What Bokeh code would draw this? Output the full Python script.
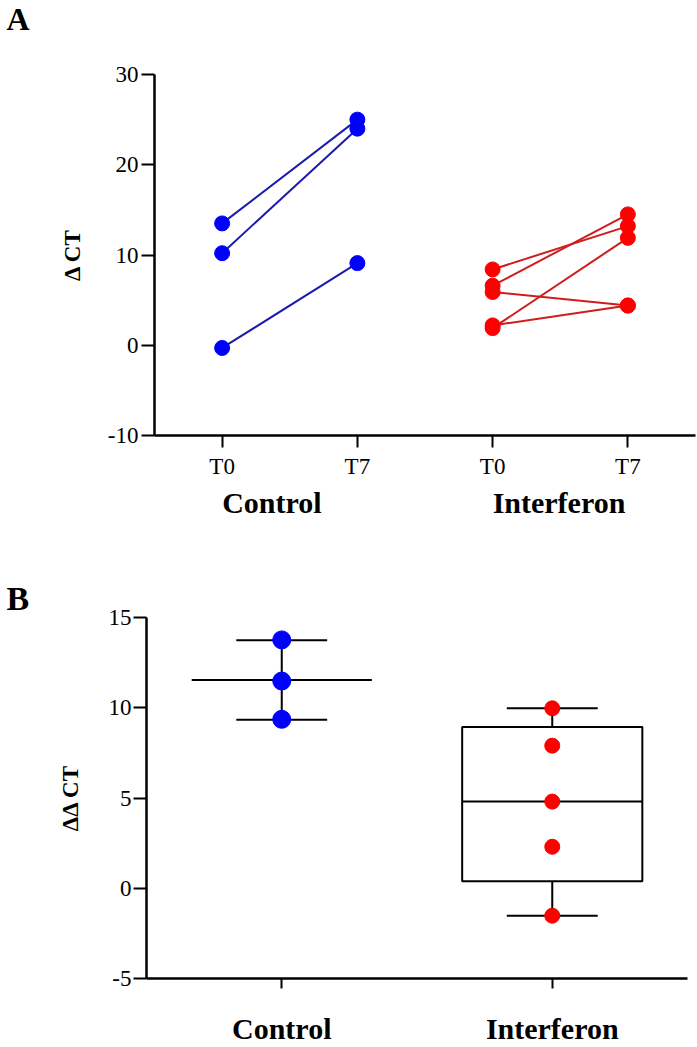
import numpy as np
from bokeh.plotting import figure
from bokeh.models import FixedTicker, FactorRange, Range1d, ColumnDataSource
from bokeh.core.properties import value
from bokeh.transform import dodge
from bokeh.embed import file_html
from bokeh.resources import INLINE

# ---------------- data ----------------
groups = ["Control", "Interferon"]
timepoints = ["T0", "T7"]
control_t0 = [13.5, 10.2, -0.3]
control_t7 = [25.0, 24.0, 9.1]
interferon_t0 = [8.4, 6.6, 5.9, 1.9, 2.2]
interferon_t7 = [13.2, 14.5, 4.4, 11.9, 4.4]
ddct_control = [13.76, 11.48, 9.36]
ddct_interferon = [9.97, 7.9, 4.8, 2.3, -1.52]
yticks_a = [-10, 0, 10, 20, 30]
yticks_b = [-5, 0, 5, 10, 15]

FONT = "Liberation Serif"
BLUE_PT, BLUE_LN = "#0000FF", "#1A1AAE"
RED_PT, RED_LN = "#FF0000", "#D01C1C"
W = 697
MID = 0.3375   # distance (in em) from text middle to its alphabetic baseline


def bare(p):
    p.outline_line_color = None
    p.xgrid.grid_line_color = None
    p.ygrid.grid_line_color = None
    p.background_fill_color = "white"
    p.border_fill_color = "white"


def style_axes(p, tick_out_x, tick_out_y):
    bare(p)
    for ax, tout in ((p.xaxis[0], tick_out_x), (p.yaxis[0], tick_out_y)):
        ax.axis_line_color = "black"
        ax.axis_line_width = 2.5
        ax.major_tick_line_color = "black"
        ax.major_tick_line_width = 2
        ax.major_tick_in = 0
        ax.major_tick_out = tout
        ax.minor_tick_line_color = None
        ax.major_label_text_font = FONT
        ax.major_label_text_color = "black"
        ax.axis_label_text_font = FONT
        ax.axis_label_text_font_style = "bold"
        ax.axis_label_text_color = "black"


def text_strip(height, x_range, y_range, border_left=0, border_right=0):
    p = figure(width=W, height=height, x_range=x_range, y_range=y_range,
               x_axis_type=None, y_axis_type=None, output_backend="svg", toolbar_location=None,
               min_border_left=border_left, min_border_right=border_right,
               min_border_top=0, min_border_bottom=0)
    bare(p)
    return p


# ---------------- panel letter A ----------------
HA_TOP = 40
A_FS = 32
hA = text_strip(HA_TOP, Range1d(0, W), Range1d(0, HA_TOP))
hA.text(x=[6], y=[HA_TOP - (29 - MID * A_FS)], text=["A"], text_font=value(FONT),
        text_font_style="bold", text_font_size=f"{A_FS}px", text_align="left",
        text_baseline="middle", text_color="black")

# ---------------- panel A ----------------
PA_H = 444
pA = figure(width=W, height=PA_H, x_range=Range1d(0.5, 4.5), y_range=Range1d(-10, 30),
            output_backend="svg", toolbar_location=None,
            min_border_left=154, min_border_right=2, min_border_top=74 - HA_TOP,
            min_border_bottom=PA_H - (435 - HA_TOP))
style_axes(pA, 12, 13)

pairs = [(control_t0, control_t7, BLUE_LN, BLUE_PT), (interferon_t0, interferon_t7, RED_LN, RED_PT)]
tick_pos, tick_lab, group_x = [], [], []
for gi, (t0, t7, lc, pc) in enumerate(pairs):
    x0 = 2 * gi + 1
    x1 = 2 * gi + 2
    tick_pos += [x0, x1]
    tick_lab += timepoints
    group_x.append(x0)
    xs = [[x0, x1] for _ in t0]
    ys = [[a, b] for a, b in zip(t0, t7)]
    pA.multi_line(xs=xs, ys=ys, line_color=lc, line_width=2)
    pA.scatter(x=[x0] * len(t0) + [x1] * len(t7), y=list(t0) + list(t7),
               size=15, fill_color=pc, line_color=pc)

pA.xaxis.ticker = FixedTicker(ticks=tick_pos)
pA.xaxis.major_label_overrides = {t: l for t, l in zip(tick_pos, tick_lab)}
pA.xaxis.major_label_text_font_size = "23px"
pA.xaxis.major_label_standoff = 6
pA.yaxis.ticker = FixedTicker(ticks=yticks_a)
pA.yaxis.major_label_overrides = {t: str(t) for t in yticks_a}
pA.yaxis.major_label_text_font_size = "23px"
pA.yaxis.major_label_standoff = 3
pA.yaxis.axis_label = "\u0394 CT"
pA.yaxis.axis_label_text_font_size = "23px"
pA.yaxis.axis_label_standoff = 20

# ---------------- group names under panel A ----------------
STRIP_TOP = HA_TOP + PA_H
STRIP_H = 575 - STRIP_TOP
G_FS = 30
sA = text_strip(STRIP_H, pA.x_range, Range1d(0, STRIP_H), border_left=154, border_right=2)
sA.text(x=group_x, y=[STRIP_H - (512 - STRIP_TOP - MID * G_FS)] * len(groups), text=groups,
        text_font=value(FONT), text_font_style="bold", text_font_size=f"{G_FS}px",
        text_align="left", text_baseline="middle", text_color="black")

# ---------------- panel B ----------------
PB_H = 1047 - 575
pB = figure(width=W, height=PB_H,
            x_range=FactorRange(factors=groups, range_padding=0),
            y_range=Range1d(-5, 15), output_backend="svg", toolbar_location=None,
            min_border_left=146, min_border_right=10, min_border_top=617 - 575, min_border_bottom=69)
style_axes(pB, 10, 13)
pB.title.text = "B"
pB.title.align = "left"
pB.title.offset = -140
pB.title.standoff = 2
pB.title.text_font = FONT
pB.title.text_font_style = "bold"
pB.title.text_font_size = "34px"
pB.title.text_color = "black"

c = np.array(ddct_control)
c_mean, c_sd = c.mean(), c.std(ddof=1)
v = np.array(ddct_interferon)
q1, med, q3 = np.percentile(v, [25, 50, 75], method="weibull")
lo, hi = v.min(), v.max()

BOX_HALF, CAP_HALF = 0.333, 0.168
src_c_stem = ColumnDataSource(dict(x=[groups[0]], y0=[c_mean - c_sd], y1=[c_mean + c_sd]))
pB.segment(x0="x", x1="x", y0="y0", y1="y1", source=src_c_stem, line_color="black", line_width=2)
src_c_caps = ColumnDataSource(dict(x=[groups[0]] * 2, y=[c_mean - c_sd, c_mean + c_sd]))
pB.segment(x0=dodge("x", -CAP_HALF, range=pB.x_range), x1=dodge("x", CAP_HALF, range=pB.x_range),
           y0="y", y1="y", source=src_c_caps, line_color="black", line_width=2)
src_c_mid = ColumnDataSource(dict(x=[groups[0]], y=[c_mean]))
pB.segment(x0=dodge("x", -BOX_HALF, range=pB.x_range), x1=dodge("x", BOX_HALF, range=pB.x_range),
           y0="y", y1="y", source=src_c_mid, line_color="black", line_width=2)

src_i_stem = ColumnDataSource(dict(x=[groups[1]], y0=[lo], y1=[hi]))
pB.segment(x0="x", x1="x", y0="y0", y1="y1", source=src_i_stem, line_color="black", line_width=2)
src_i_caps = ColumnDataSource(dict(x=[groups[1]] * 2, y=[lo, hi]))
pB.segment(x0=dodge("x", -CAP_HALF, range=pB.x_range), x1=dodge("x", CAP_HALF, range=pB.x_range),
           y0="y", y1="y", source=src_i_caps, line_color="black", line_width=2)
src_i_box = ColumnDataSource(dict(x=[groups[1]], y=[(q1 + q3) / 2], h=[q3 - q1]))
pB.rect(x="x", y="y", width=2 * BOX_HALF, height="h", source=src_i_box,
        fill_color="white", line_color="black", line_width=2)
src_i_mid = ColumnDataSource(dict(x=[groups[1]], y=[med]))
pB.segment(x0=dodge("x", -BOX_HALF, range=pB.x_range), x1=dodge("x", BOX_HALF, range=pB.x_range),
           y0="y", y1="y", source=src_i_mid, line_color="black", line_width=2)

pB.scatter(x=[groups[0]] * len(ddct_control), y=ddct_control, size=18,
           fill_color=BLUE_PT, line_color=BLUE_PT)
pB.scatter(x=[groups[1]] * len(ddct_interferon), y=ddct_interferon, size=15,
           fill_color=RED_PT, line_color=RED_PT)

pB.xaxis.major_label_text_font_size = "30px"
pB.xaxis.major_label_text_font_style = "bold"
pB.xaxis.major_label_standoff = 23
pB.yaxis.ticker = FixedTicker(ticks=yticks_b)
pB.yaxis.major_label_overrides = {t: str(t) for t in yticks_b}
pB.yaxis.major_label_text_font_size = "23px"
pB.yaxis.major_label_standoff = 2
pB.yaxis.axis_label = "\u0394\u0394 CT"
pB.yaxis.axis_label_text_font_size = "23px"
pB.yaxis.axis_label_standoff = 23

open("out.html", "w").write(file_html([hA, pA, sA, pB], INLINE))
